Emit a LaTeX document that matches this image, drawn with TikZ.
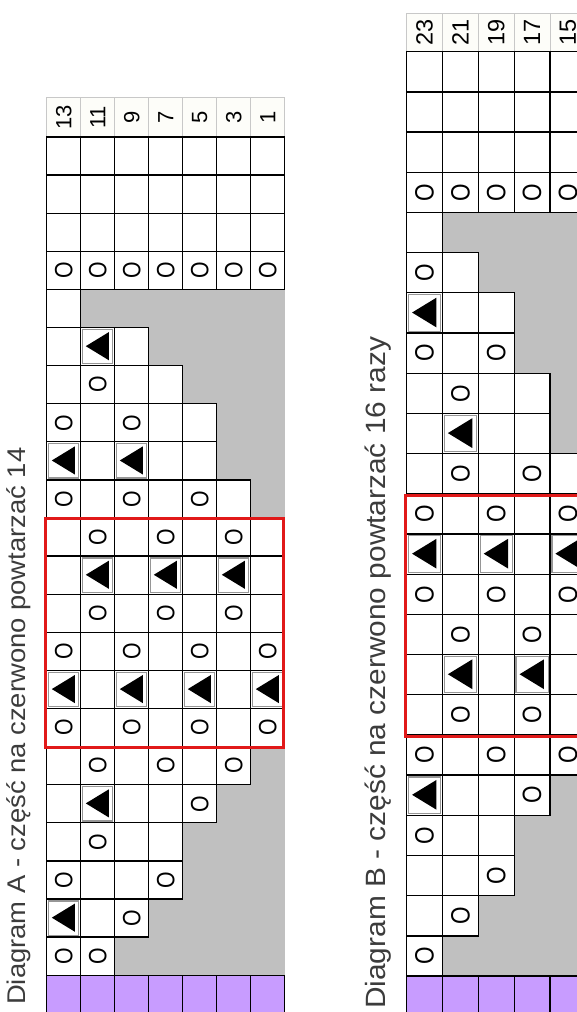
\documentclass[tikz,border=0pt]{standalone}
\usepackage{fontspec}
\setmainfont{Liberation Sans}
\definecolor{chartgray}{RGB}{192,192,192}
\definecolor{chartpurple}{RGB}{200,156,255}
\definecolor{chartred}{RGB}{225,25,25}
\definecolor{labelgrid}{RGB}{200,200,200}
\definecolor{labelfill}{RGB}{253,253,249}
\definecolor{titlegray}{RGB}{60,60,60}
\definecolor{triframe}{RGB}{150,150,150}

\newcommand\kcellG[4]{}
\newcommand\kcellW[4]{\draw[gridline, fill=white] (#1,#2) rectangle ++(#3,#4);}
\newcommand\kcellP[4]{\draw[gridline, fill=chartpurple] (#1,#2) rectangle ++(#3,#4);}
\newcommand\kcellO[4]{%
  \draw[gridline, fill=white] (#1,#2) rectangle ++(#3,#4);
  \node[yarnover] (o\chartid-\i-\j) at ({#1+#3/2},{#2+#4/2}) {\scalebox{0.85}[1]{O}};}
\newcommand\kcellT[4]{%
  \draw[gridline, fill=white] (#1,#2) rectangle ++(#3,#4);
  \draw[triframe, line width=1.2pt] ({#1+1.9},{#2+1.9}) rectangle ({#1+#3-1.9},{#2+#4-1.9});
  \fill[black] ({#1+0.15*#3},{#2+0.49*#4}) -- ({#1+0.83*#3},{#2+0.12*#4})
     -- ({#1+0.83*#3},{#2+0.86*#4}) -- cycle;}

\begin{document}
\begin{tikzpicture}[x=1pt,y=-1pt,
  gridline/.style={draw=black, line width=1.3pt},
  labelcell/.style={draw=labelgrid, line width=0.8pt, fill=labelfill},
  labeltext/.style={rotate=90, inner sep=0pt, text=black},
  yarnover/.style={rotate=90, inner sep=0pt, font=\ofont},
  redbox/.style={draw=chartred, line width=3pt},
  titletext/.style={rotate=90, anchor=base west, inner sep=0pt, text=titlegray}]
\useasboundingbox (0,0) rectangle (577,1012);
\fill[white] (0,0) rectangle (577,1012);
\clip (0,0) rectangle (577,1012);

% ---------------- Diagram A ----------------
\def\chartid{A}
\def\ofont{\fontsize{25}{25}\selectfont}
\foreach \lab [count=\j] in {13,11,9,7,5,3,1} {
  \pgfmathsetmacro\cx{46.7+(\j-1)*34}
  \draw[labelcell] (\cx,97.5) rectangle ++(34,39.5);
  \node[labeltext, font=\fontsize{22}{22}\selectfont] (labA\j) at ({\cx+17},117.3) {\lab};
}
\fill[chartgray] (46.7,289.4) rectangle (284.7,975.2);
\foreach \rowlist [count=\i] in {
 {W,W,W,W,W,W,W},
 {W,W,W,W,W,W,W},
 {W,W,W,W,W,W,W},
 {O,O,O,O,O,O,O},
 {W,G,G,G,G,G,G},
 {W,T,W,G,G,G,G},
 {W,O,W,W,G,G,G},
 {O,W,O,W,W,G,G},
 {T,W,T,W,W,G,G},
 {O,W,O,W,O,W,G},
 {W,O,W,O,W,O,W},
 {W,T,W,T,W,T,W},
 {W,O,W,O,W,O,W},
 {O,W,O,W,O,W,O},
 {T,W,T,W,T,W,T},
 {O,W,O,W,O,W,O},
 {W,O,W,O,W,O,G},
 {W,T,W,W,O,G,G},
 {W,O,W,W,G,G,G},
 {O,W,W,O,G,G,G},
 {T,W,O,G,G,G,G},
 {O,O,G,G,G,G,G},
 {P,P,P,P,P,P,P}} {
  \foreach \c [count=\j] in \rowlist {
    \pgfmathsetmacro\cx{46.7+(\j-1)*34}
    \pgfmathsetmacro\cy{137+(\i-1)*38.1}
    \csname kcell\c\endcsname{\cx}{\cy}{34}{38.1}
  }
}
\draw[redbox] (45.7,518.3) rectangle (283.5,747.5);
\node[titletext, font=\fontsize{25.6}{30}\selectfont] (titleA) at (25,1005)
  {\scalebox{1.07}[1]{Diagram A - część na czerwono powtarzać 14}};

% ---------------- Diagram B ----------------
\def\chartid{B}
\def\ofont{\fontsize{26.5}{26.5}\selectfont}
\foreach \lab [count=\j] in {23,21,19,17,15} {
  \pgfmathsetmacro\cx{406.7+(\j-1)*35.83}
  \draw[labelcell] (\cx,13.3) rectangle ++(35.83,38.4);
  \node[labeltext, font=\fontsize{23.5}{23.5}\selectfont] (labB\j) at ({\cx+17.9},32.5) {\lab};
}
\fill[chartgray] (406.7,212.5) rectangle (600,976);
\foreach \rowlist [count=\i] in {
 {W,W,W,W,W},
 {W,W,W,W,W},
 {W,W,W,W,W},
 {O,O,O,O,O},
 {W,G,G,G,G},
 {O,W,G,G,G},
 {T,W,W,G,G},
 {O,W,O,G,G},
 {W,O,W,W,G},
 {W,T,W,W,G},
 {W,O,W,O,W},
 {O,W,O,W,O},
 {T,W,T,W,T},
 {O,W,O,W,O},
 {W,O,W,O,W},
 {W,T,W,T,W},
 {W,O,W,O,W},
 {O,W,O,W,O},
 {T,W,W,O,G},
 {O,W,W,G,G},
 {W,W,O,G,G},
 {W,O,G,G,G},
 {O,G,G,G,G},
 {P,P,P,P,P}} {
  \foreach \c [count=\j] in \rowlist {
    \pgfmathsetmacro\cx{406.7+(\j-1)*35.83}
    \pgfmathsetmacro\cy{51.7+(\i-1)*40.19}
    \csname kcell\c\endcsname{\cx}{\cy}{35.83}{40.19}
  }
}
\draw[redbox] (405,495) rectangle (620,736);
\node[titletext, font=\fontsize{27.9}{32}\selectfont] (titleB) at (385,1009)
  {\scalebox{1.07}[1]{Diagram B - część na czerwono powtarzać 16 razy}};
\end{tikzpicture}
\end{document}
